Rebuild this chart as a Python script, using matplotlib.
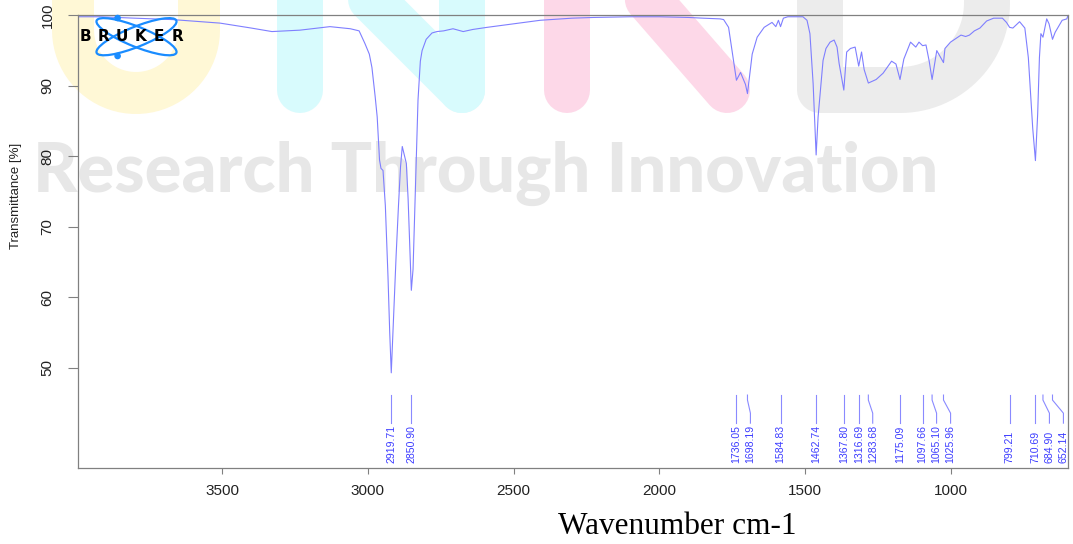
import numpy as np
import matplotlib
matplotlib.use("Agg")
import matplotlib.pyplot as plt
from matplotlib.lines import Line2D
from matplotlib.patches import Ellipse, Circle
from matplotlib.transforms import Affine2D

# FTIR spectrum: wavenumber (cm-1) and transmittance (%)
wavenumber = [
    3994, 3920, 3800, 3670, 3507, 3400, 3329, 3233, 3130, 3060, 3030, 3010,
    2995, 2986, 2975, 2968, 2960, 2955, 2948, 2940, 2931, 2925, 2919.71, 2912,
    2903, 2895, 2888, 2882, 2875, 2868, 2862, 2856, 2850.90, 2845, 2838, 2828,
    2820, 2814, 2800, 2780, 2763, 2740, 2708, 2690, 2673, 2640, 2591, 2500,
    2409, 2300, 2228, 2100, 2000, 1900, 1850, 1792, 1780, 1763, 1751, 1736.05,
    1722, 1705, 1698.19, 1682, 1665, 1641, 1614, 1601, 1592, 1584.83, 1575, 1560,
    1508, 1494, 1484, 1473, 1462.74, 1456, 1439, 1429, 1415, 1401, 1391, 1384,
    1367.80, 1358, 1345, 1329, 1316.69, 1307, 1298, 1283.68, 1257, 1233, 1204, 1189,
    1175.09, 1162, 1139, 1121, 1110, 1097.66, 1086, 1075, 1065.10, 1049, 1025.96, 1021,
    1002, 984, 966, 950, 937, 920, 901, 878, 854, 824, 810, 799.21,
    788, 765, 747, 735, 729, 720, 710.69, 703, 697, 692, 684.90, 672,
    664, 652.14, 643, 619, 603, 599,
]
transmittance = [
    99.8, 99.8, 99.6, 99.4, 98.9, 98.2, 97.7, 97.9, 98.4, 98.1, 97.8, 96.0,
    94.5, 92.6, 88.5, 85.6, 79.5, 78.3, 78.0, 73.0, 63.0, 55.0, 49.3, 57.0,
    66.0, 73.0, 78.5, 81.4, 80.2, 79.0, 74.0, 67.0, 61.0, 64.0, 73.8, 88.0,
    93.5, 95.0, 96.6, 97.5, 97.7, 97.8, 98.1, 97.9, 97.7, 98.0, 98.3, 98.8,
    99.3, 99.6, 99.7, 99.8, 99.8, 99.7, 99.6, 99.5, 99.4, 98.3, 95.0, 90.8,
    91.9, 90.2, 88.9, 94.5, 96.9, 98.3, 99.0, 98.4, 99.3, 98.4, 99.6, 99.8,
    99.8, 99.3, 97.4, 90.3, 80.2, 85.6, 93.6, 95.3, 96.2, 96.5, 95.5, 93.2,
    89.4, 94.8, 95.3, 95.5, 92.8, 94.8, 92.3, 90.4, 90.9, 91.8, 93.5, 93.1,
    90.9, 93.8, 96.2, 95.5, 96.2, 95.7, 95.8, 93.5, 90.9, 95.0, 93.3, 95.3,
    96.2, 96.7, 97.2, 97.0, 97.2, 97.8, 98.2, 99.2, 99.6, 99.6, 99.0, 98.3,
    98.2, 99.1, 98.2, 94.0, 89.9, 84.0, 79.4, 86.0, 94.0, 97.4, 96.9, 99.5,
    98.8, 96.6, 97.6, 99.3, 99.5, 100.0,
]

# picked peaks
peak_wn = [2919.71, 2850.90, 1736.05, 1698.19, 1584.83, 1462.74, 1367.80,
           1316.69, 1283.68, 1175.09, 1097.66, 1065.10, 1025.96, 799.21,
           710.69, 684.90, 652.14]

x_ticks = [3500, 3000, 2500, 2000, 1500, 1000]
y_ticks = [50, 60, 70, 80, 90, 100]

W, H = 1073, 544

fig = plt.figure(figsize=(W / 100, H / 100), dpi=100)
fig.patch.set_facecolor("white")

# pixel coordinates measured from the top-left corner of the figure
px = Affine2D().scale(1 / W, -1 / H).translate(0, 1) + fig.transFigure


def stroke(xs, ys, color, width=46):
    fig.add_artist(Line2D(xs, ys, transform=px, color=color, lw=width * 0.72,
                          solid_capstyle="round", solid_joinstyle="round",
                          zorder=-5))


# faded journal watermark behind the plot
t = np.linspace(0, np.pi, 40)
stroke([-9, -9], [-100, 76], "#f4fbe2")
stroke([73] + list(136 - 63 * np.cos(t)) + [199],
       [-100] + list(30 + 63 * np.sin(t)) + [-100], "#fff8d6", 42)
stroke([300, 300], [-100, 90], "#d8fbfd")
stroke([462, 462], [-100, 90], "#d8fbfd")
stroke([272, 462], [-100, 90], "#d8fbfd")
stroke([567, 567], [-100, 90], "#fdd8e8")
stroke([640, 727], [-10, 90], "#fdd8e8")
stroke([567, 660, 700], [-100, -100, -30], "#fdd8e8")
q = np.linspace(0, np.pi / 2, 30)
stroke([820, 820, 900] + list(900 + 87 * np.sin(q)) + [987],
       [-100, 90, 90] + list(3 + 87 * np.cos(q)) + [-100], "#ececec")
fig.text(486, 192, "Research Through Innovation", transform=px,
         ha="center", va="baseline", color="#e7e7e7", fontweight="black",
         family=["Lato", "Liberation Sans"], fontsize=49.3, zorder=-4)

ax = fig.add_axes([78 / W, (H - 468) / H, 990 / W, 453 / H])
ax.set_facecolor("none")

ax.plot(wavenumber, transmittance, color="#7f7fff", lw=0.8)

ax.set_xlim(3994, 599)
ax.set_ylim(35.8, 100.05)
ax.set_xticks(x_ticks)
ax.set_yticks(y_ticks)

for s in ax.spines.values():
    s.set_color("#808080")
    s.set_linewidth(0.9)

ax.tick_params(axis="x", length=4.5, width=0.8, color="#808080", pad=7,
               labelsize=11, labelcolor="#222222")
ax.tick_params(axis="y", length=7, width=0.8, color="#808080", pad=10,
               labelsize=11, labelcolor="#222222", labelrotation=90)
for lab in ax.get_xticklabels() + ax.get_yticklabels():
    lab.set_family("Liberation Sans")
for lab in ax.get_yticklabels():
    lab.set_va("center")

# peak labels, pushed apart where neighbours would overlap
label_wn = []
for w in peak_wn:
    if label_wn and label_wn[-1] - w < 48:
        label_wn.append(label_wn[-1] - 48)
    else:
        label_wn.append(w)

xt = ax.get_xaxis_transform()
for w, lw_ in zip(peak_wn, label_wn):
    ax.plot([w, w, lw_, lw_], [0.161, 0.150, 0.121, 0.099], transform=xt,
            color="#8a8aff", lw=0.8, clip_on=False)
    ax.text(lw_, 0.011, f"{w:.2f}", transform=xt, rotation=90,
            ha="center", va="bottom", color="#3c3cff",
            family="Liberation Sans", fontsize=7.6)

# instrument logo in the top-left corner
for ang in (22, -22):
    fig.add_artist(Ellipse((136.5, 36.7), 86, 20, angle=ang, transform=px,
                           fill=False, ec="#1a8cff", lw=1.6))
for cy in (18, 56):
    fig.add_artist(Circle((117.6, cy), 2.6, transform=px, color="#1a8cff"))
for i, ch in enumerate("BRUKER"):
    fig.text(85 + 18.5 * i, 36.5, ch, transform=px, ha="center", va="center",
             fontsize=11, fontweight="bold", family="DejaVu Sans",
             color="black")

fig.text(16, 196, "Transmittance [%]", transform=px, rotation=90,
         ha="center", va="center", fontsize=9.5, family="Liberation Sans",
         color="#222222")
fig.text(677, 527, "Wavenumber cm-1", transform=px, ha="center", va="center",
         fontsize=22.5, family="Liberation Serif", color="black")

fig.savefig("out.png", dpi=100)
